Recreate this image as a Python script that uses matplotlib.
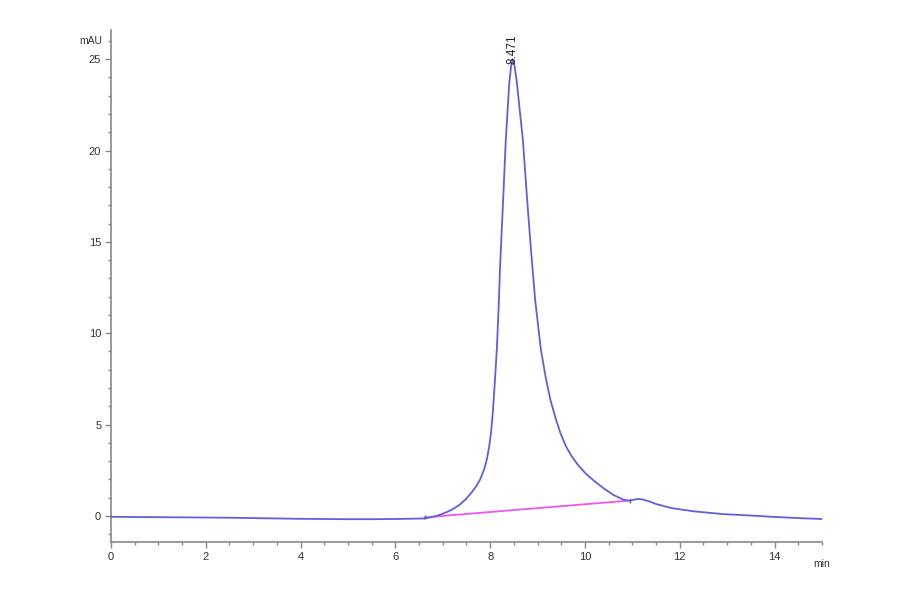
import numpy as np
import matplotlib
matplotlib.use("Agg")
import matplotlib.pyplot as plt
from matplotlib.ticker import MultipleLocator

plt.rcParams['font.family'] = ['Liberation Sans', 'DejaVu Sans']

# chromatogram signal (min, mAU)
time_min = [0.0, 0.5, 1.0, 1.5, 2.0, 2.5, 3.0, 3.5, 4.0, 4.5, 5.0, 5.5, 6.0, 6.62,
            6.85, 7.03, 7.2, 7.35, 7.48, 7.6, 7.7, 7.79, 7.88, 7.93, 7.98, 8.02, 8.06,
            8.10, 8.14, 8.18, 8.21, 8.27, 8.33, 8.40, 8.44, 8.471, 8.51, 8.56, 8.62,
            8.69, 8.79, 8.86, 8.95, 9.07, 9.17, 9.27, 9.38, 9.48, 9.60, 9.71, 9.85,
            10.0, 10.2, 10.41, 10.6, 10.82, 10.93, 11.02, 11.12, 11.22, 11.35,
            11.5, 11.84, 12.3, 12.9, 13.5, 13.95, 14.5, 15.0]
signal_mau = [-0.05, -0.06, -0.07, -0.08, -0.09, -0.10, -0.12, -0.14, -0.16, -0.17,
              -0.18, -0.18, -0.17, -0.14,
              -0.02, 0.15, 0.35, 0.6, 0.9, 1.25, 1.6, 2.0, 2.6, 3.1, 3.8, 4.6, 5.8,
              7.4, 9.1, 11.5, 13.7, 17.1, 20.6, 23.6, 24.6, 25.0, 24.7, 23.8, 22.3,
              20.6, 16.96, 14.6, 11.8, 9.1, 7.6, 6.36, 5.35, 4.55, 3.8, 3.3, 2.8,
              2.36, 1.9, 1.48, 1.15, 0.88, 0.84, 0.88, 0.93, 0.90, 0.80,
              0.65, 0.42, 0.25, 0.10, 0.02, -0.05, -0.12, -0.17]

# integration baseline
base_t = [6.62, 10.95]
base_v = [-0.08, 0.84]

peak_t = 8.471
peak_v = 25.0
peak_label = "8.471"

fig = plt.figure(figsize=(9, 5.94), dpi=100)
ax = fig.add_axes([0.1233, 0.0875, 0.79, 0.862])

ax.plot(time_min, signal_mau, color='#5f5fe2', lw=1.3, zorder=3)
ax.plot(base_t, base_v, color='#ee55ee', lw=1.3, zorder=2)
ax.plot(base_t, base_v, ls='none', marker='|', ms=3.5, color='#666666', zorder=4)
ax.text(peak_t, peak_v - 0.25, peak_label, rotation=90, ha='center', va='bottom',
        fontsize=8.5, color='#222222', clip_on=False)

ax.set_xlim(0, 15)
ax.set_ylim(-1.43, 26.6)
ax.xaxis.set_major_locator(MultipleLocator(2))
ax.xaxis.set_minor_locator(MultipleLocator(0.5))
ax.yaxis.set_major_locator(MultipleLocator(5))
ax.yaxis.set_minor_locator(MultipleLocator(1))

for s in ['top', 'right']:
    ax.spines[s].set_visible(False)
for s in ['left', 'bottom']:
    ax.spines[s].set_color('#888888')
    ax.spines[s].set_linewidth(1.2)
ax.tick_params(which='major', direction='out', length=4, width=1, color='#888888',
               labelsize=8, labelcolor='#333333', pad=3)
ax.tick_params(which='minor', direction='out', length=2.5, width=1, color='#888888')

ax.text(-0.012, 26.0, 'mAU', transform=ax.get_yaxis_transform(), ha='right',
        va='center', fontsize=7.5, color='#333333')
ax.text(1.0, -0.033, 'min', transform=ax.transAxes, ha='center', va='top',
        fontsize=7.5, color='#333333')

fig.savefig('out.png', dpi=100)
